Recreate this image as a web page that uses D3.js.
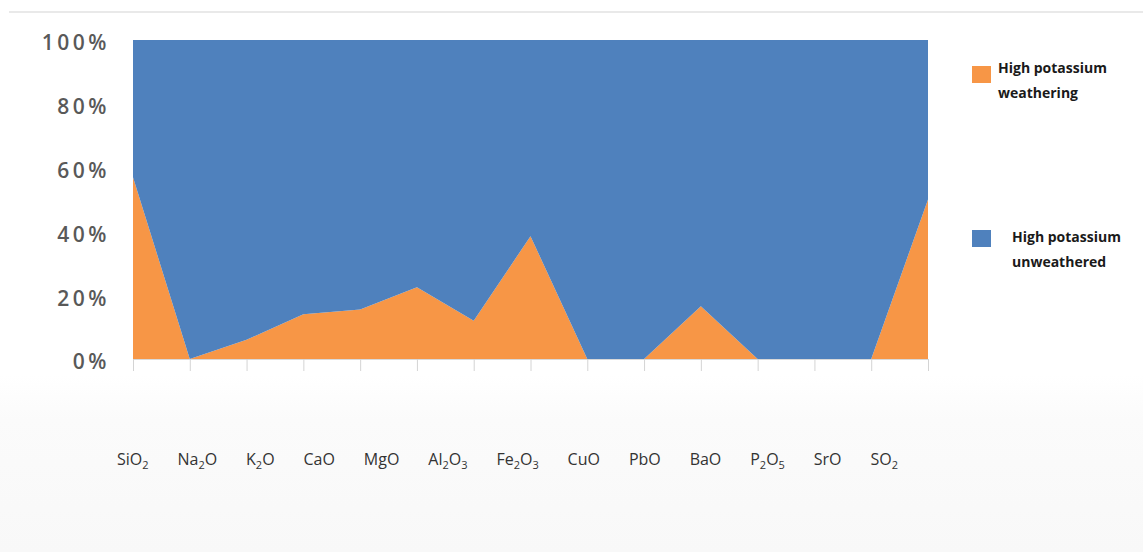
<!DOCTYPE html>
<html>
<head>
<meta charset="utf-8">
<script src="https://cdn.jsdelivr.net/npm/d3@7"></script>
<style>
  html, body { margin: 0; padding: 0; background: #fff; }
  svg { display: block; }
</style>
</head>
<body>
<svg id="chart" width="1143" height="552"></svg>
<script>
// ---- data ----
const pointIds = ["p0","p1","p2","p3","p4","p5","p6","p7","p8","p9","p10","p11","p12","p13","p14"];
const weathering = [57, 0, 6, 14, 15.5, 22.5, 12, 38.5, 0, 0, 16.5, 0, 0, 0, 50];
const unweathered = weathering.map(v => 100 - v);
const categoryLabels = ["SiO2","Na2O","K2O","CaO","MgO","Al2O3","Fe2O3","CuO","PbO","BaO","P2O5","SrO","SO2"];
const yTicks = [0, 0.2, 0.4, 0.6, 0.8, 1];
const seriesNames = ["High potassium weathering", "High potassium unweathered"];
const legendLines = [["High potassium", "weathering"], ["High potassium", "unweathered"]];
const colors = ["#F79646", "#4F81BD"];

// ---- layout ----
const svg = d3.select("#chart");
const W = 1143, H = 552;
const plot = { left: 133, right: 928, top: 40, bottom: 359 };

// faint background artifacts
const defs = svg.append("defs");
const grad = defs.append("linearGradient").attr("id", "bg").attr("x1", 0).attr("y1", 0).attr("x2", 0).attr("y2", 1);
grad.append("stop").attr("offset", "0%").attr("stop-color", "#ffffff");
grad.append("stop").attr("offset", "25%").attr("stop-color", "#fbfbfb");
grad.append("stop").attr("offset", "100%").attr("stop-color", "#f8f8f8");
svg.append("rect").attr("x", 0).attr("y", 375).attr("width", W).attr("height", H - 375).attr("fill", "url(#bg)");
svg.append("line").attr("x1", 9).attr("x2", W).attr("y1", 12).attr("y2", 12)
  .attr("stroke", "#e2e2e2").attr("stroke-width", 1.5);

const x = d3.scalePoint().domain(pointIds).range([plot.left, plot.right]);
const y = d3.scaleLinear().domain([0, 1]).range([plot.bottom, plot.top]);

const rows = pointIds.map((id, i) => ({ id, w: weathering[i], u: unweathered[i] }));
const stack = d3.stack().keys(["w", "u"]).offset(d3.stackOffsetExpand);
const layers = stack(rows);

const area = d3.area()
  .x(d => x(d.data.id))
  .y0(d => y(d[0]))
  .y1(d => y(d[1]));

svg.append("g").selectAll("path").data(layers).join("path")
  .attr("d", area)
  .attr("fill", (d, i) => colors[i]);

// x axis (ticks only)
const xAxis = svg.append("g").attr("transform", `translate(0,${plot.bottom})`)
  .call(d3.axisBottom(x).tickSize(12).tickFormat(""));
xAxis.select(".domain").attr("stroke", "#d9d9d9");
xAxis.selectAll(".tick line").attr("stroke", "#d4d4d4");
xAxis.selectAll(".tick text").remove();

// y axis (labels only)
const yAxis = svg.append("g").attr("transform", `translate(${plot.left},0)`)
  .call(d3.axisLeft(y).tickValues(yTicks).tickFormat(d3.format(".0%")).tickSize(0).tickPadding(23));
yAxis.select(".domain").remove();
yAxis.selectAll("text")
  .attr("dy", "0.38em")
  .attr("transform", "translate(0,2)")
  .style("font-family", "'Open Sans', sans-serif")
  .style("font-size", "21px")
  .style("font-weight", "600")
  .style("letter-spacing", "3.5px")
  .attr("fill", "#595959");

// category labels laid out as a row of text
const labelG = svg.append("g");
const labelStart = 117, labelEnd = 898, labelBaseline = 465;
const labels = labelG.selectAll("text").data(categoryLabels).join("text")
  .attr("y", labelBaseline)
  .style("font-family", "'Open Sans', sans-serif")
  .style("font-size", "16px")
  .attr("fill", "#333333");
labels.each(function(d) {
  const t = d3.select(this);
  const parts = d.match(/[A-Za-z]+|\d+/g);
  let prevSub = false;
  parts.forEach(p => {
    const isSub = /^\d+$/.test(p);
    const ts = t.append("tspan").text(p);
    if (isSub) ts.style("font-size", "11px").attr("dy", 4);
    else if (prevSub) ts.attr("dy", -4);
    prevSub = isSub;
  });
});
const widths = [];
labels.each(function() { widths.push(this.getBBox().width); });
const totalW = d3.sum(widths);
const gap = (labelEnd - labelStart - totalW) / (categoryLabels.length - 1);
let cx = labelStart;
labels.each(function(d, i) {
  d3.select(this).attr("x", cx);
  cx += widths[i] + gap;
});

// legend
const legend = svg.append("g");
const legendPos = [{ sx: 972, sy: 66, tx: 998, ty: 73 }, { sx: 972, sy: 230, tx: 1012, ty: 242 }];
seriesNames.forEach((name, i) => {
  const p = legendPos[i];
  legend.append("rect").attr("x", p.sx).attr("y", p.sy).attr("width", 19).attr("height", 17).attr("fill", colors[i]);
  const t = legend.append("text").attr("x", p.tx).attr("y", p.ty)
    .style("font-family", "'Open Sans', sans-serif")
    .style("font-size", "14px").style("font-weight", "700")
    .attr("fill", "#1a1a1a");
  legendLines[i].forEach((ln, j) => {
    t.append("tspan").attr("x", p.tx).attr("dy", j === 0 ? 0 : 25).text(ln);
  });
});
</script>
</body>
</html>
